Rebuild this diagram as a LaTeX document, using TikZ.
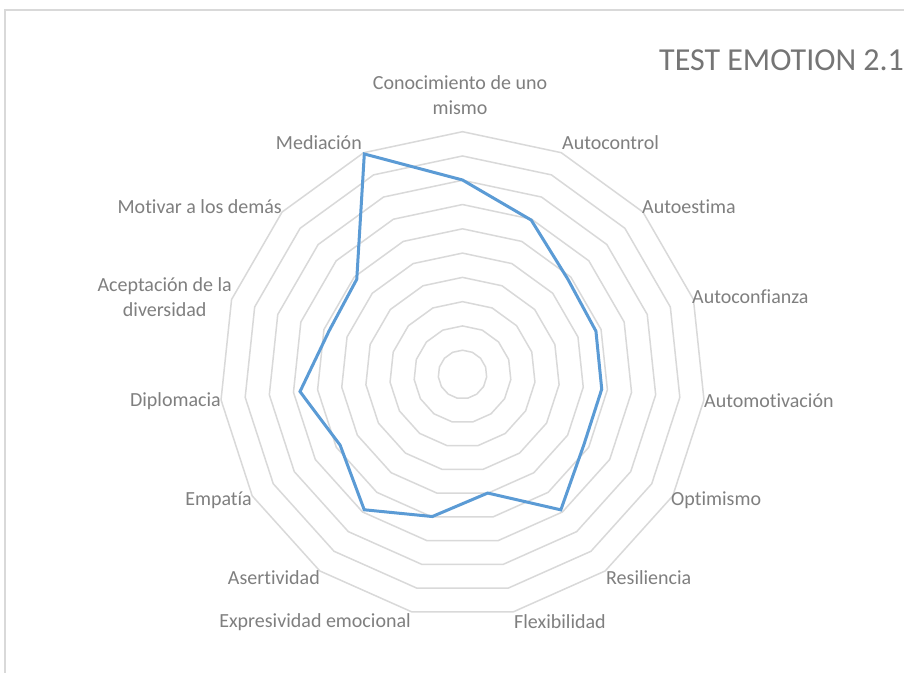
\documentclass[tikz,border=0pt]{standalone}
\usepackage{fontspec}
\setmainfont{Carlito}[Ligatures=NoCommon]
\definecolor{gridgray}{HTML}{D9D9D9}
\definecolor{txtgray}{HTML}{7F7F7F}
\definecolor{titlegray}{HTML}{757575}
\definecolor{serieblue}{HTML}{5B9BD5}
\begin{document}
\begin{tikzpicture}[x=1pt,y=1pt,
  lbl/.style={text=txtgray,font=\fontsize{20}{25}\selectfont,inner sep=1pt},
  ring/.style={draw=gridgray,line width=1.5pt},
  serie/.style={draw=serieblue,line width=3pt,line join=miter}]
\useasboundingbox (0,0) rectangle (904,672);
\fill[white] (0,0) rectangle (904,672);
% frame
\draw[gridgray,line width=1.2pt] (5,-5) -- (5,662) -- (910,662);
% rings
\begin{scope}[shift={(462.5,297.5)}]
\foreach \i in {1,...,10}{
  \draw[ring] (90:{\i*24.28})
    \foreach \k in {1,...,14}{ -- ({90-24*\k}:{\i*24.28}) } -- cycle;
}
% data
\coordinate (p0) at (90:194.5);
\coordinate (p1) at (66:169);
\coordinate (p2) at (42:142);
\coordinate (p3) at (18:140.3);
\coordinate (p4) at (-6:140);
\coordinate (p5) at (-30:140.2);
\coordinate (p6) at (-54:167.3);
\coordinate (p7) at (-78:121.2);
\coordinate (p8) at (-102:145.2);
\coordinate (p9) at (-126:167.2);
\coordinate (p10) at (-150:141.3);
\coordinate (p11) at (-174:163.4);
\coordinate (p12) at (162:140.4);
\coordinate (p13) at (138:142.3);
\coordinate (p14) at (114:241.4);
\draw[serie] (p0) -- (p1) -- (p2) -- (p3) -- (p4) -- (p5) -- (p6) -- (p7)
  -- (p8) -- (p9) -- (p10) -- (p11) -- (p12) -- (p13) -- (p14) -- cycle;
\end{scope}
% title
\node[text=titlegray,font=\fontsize{32}{38}\selectfont,anchor=west,inner sep=0pt] (title) at (659,612) {TEST EMOTION 2.1};
% labels (screen y -> 672 - y)
\node[lbl,align=center,anchor=center] (l0) at (460,577) {Conocimiento de uno\\mismo};
\node[lbl,anchor=west] (l1) at (561,529) {Autocontrol};
\node[lbl,anchor=west] (l2) at (641,465) {Autoestima};
\node[lbl,anchor=west] (l3) at (691,375) {Autoconfianza};
\node[lbl,anchor=west] (l4) at (703,271) {Automotivación};
\node[lbl,anchor=west] (l5) at (670,172) {Optimismo};
\node[lbl,anchor=west] (l6) at (605,94) {Resiliencia};
\node[lbl,anchor=west] (l7) at (513,50) {Flexibilidad};
\node[lbl,anchor=east] (l8) at (412,50) {Expresividad emocional};
\node[lbl,anchor=east] (l9) at (321,94) {Asertividad};
\node[lbl,anchor=east] (l10) at (253,172) {Empatía};
\node[lbl,anchor=east] (l11) at (222,271) {Diplomacia};
\node[lbl,align=center,anchor=east] (l12) at (233,375) {Aceptación de la\\diversidad};
\node[lbl,anchor=east] (l13) at (283,465) {Motivar a los demás};
\node[lbl,anchor=east] (l14) at (363,529) {Mediación};
\end{tikzpicture}
\end{document}
